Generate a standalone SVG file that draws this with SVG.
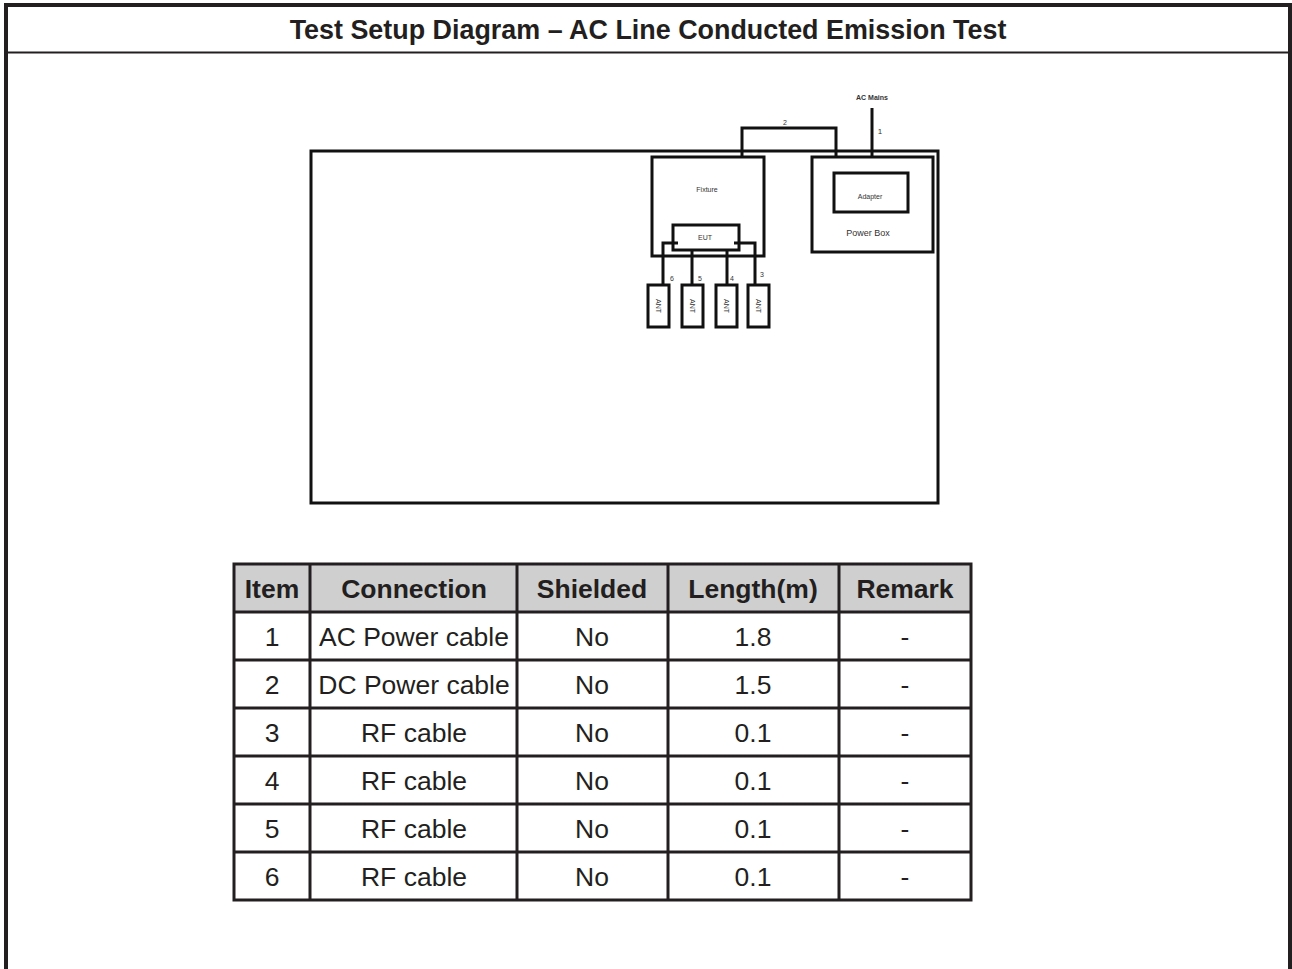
<svg xmlns="http://www.w3.org/2000/svg" width="1292" height="969" viewBox="0 0 1292 969">
<style>
.frame{fill:none;stroke:#231f20}
.ln{fill:none;stroke:#111;stroke-width:3}
.sm{font-family:"Liberation Sans",Arial,sans-serif;fill:#333;text-anchor:middle}
.tt{font-family:"Liberation Sans",Arial,sans-serif;fill:#231f20;text-anchor:middle;font-size:26.5px}
.th{font-weight:bold}
.grid{stroke:#231f20;stroke-width:3;fill:none}
</style>
<rect width="1292" height="969" fill="#fff"/>
<g id="frame">
<path class="frame" stroke-width="4" d="M6,975 V5 H1290 V975"/>
<line class="frame" stroke-width="2" x1="6" y1="52.5" x2="1290" y2="52.5"/>
<text x="648" y="39" font-family="Liberation Sans,Arial,sans-serif" font-weight="bold" font-size="26.9" fill="#231f20" text-anchor="middle">Test Setup Diagram – AC Line Conducted Emission Test</text>
</g>
<g id="table-area">
<rect id="ta-main" class="ln" x="311" y="151" width="627" height="352"/>
</g>
<g id="fixture">
<rect class="ln" x="652" y="157" width="112" height="99"/>
<text class="sm" x="707" y="192" font-size="7">Fixture</text>
</g>
<g id="eut">
<rect class="ln" x="673" y="225" width="66" height="25" fill="#fff"/>
<text class="sm" x="705" y="240" font-size="7">EUT</text>
</g>
<g id="power-box">
<rect class="ln" x="812" y="157" width="121" height="95"/>
<text class="sm" x="868" y="236" font-size="9">Power Box</text>
</g>
<g id="adapter">
<rect class="ln" x="834" y="173" width="74" height="39"/>
<text class="sm" x="870" y="199" font-size="7">Adapter</text>
</g>
<g id="ac-mains">
<text class="sm" x="872" y="100" font-size="7" font-weight="bold" fill="#111">AC Mains</text>
</g>
<g id="ant6"><rect class="ln" x="648" y="285" width="21" height="42"/><text class="sm" font-size="7" transform="translate(656,306) rotate(90)">ANT</text></g>
<g id="ant5"><rect class="ln" x="682" y="285" width="21" height="42"/><text class="sm" font-size="7" transform="translate(690,306) rotate(90)">ANT</text></g>
<g id="ant4"><rect class="ln" x="716" y="285" width="21" height="42"/><text class="sm" font-size="7" transform="translate(724,306) rotate(90)">ANT</text></g>
<g id="ant3"><rect class="ln" x="748" y="285" width="21" height="42"/><text class="sm" font-size="7" transform="translate(756,306) rotate(90)">ANT</text></g>
<g id="connectors">
<path class="ln" d="M872,108 V157"/>
<path class="ln" d="M742,157 V128 H836 V157"/>
<path class="ln" d="M678,243 H663 V285"/>
<path class="ln" d="M692,250 V285"/>
<path class="ln" d="M727,250 V285"/>
<path class="ln" d="M734,243 H755 V285"/>
<text class="sm" x="880" y="134" font-size="8">1</text>
<text class="sm" x="785" y="125" font-size="7">2</text>
<text class="sm" x="762" y="277" font-size="7">3</text>
<text class="sm" x="732" y="281" font-size="7">4</text>
<text class="sm" x="700" y="281" font-size="7">5</text>
<text class="sm" x="672" y="281" font-size="7">6</text>
</g>
<g id="cable-table">
<rect x="234" y="564" width="737" height="48" fill="#cfcfd0"/>
<path class="grid" d="M234,564 H971 V900 H234 Z M234,612 H971 M234,660 H971 M234,708 H971 M234,756 H971 M234,804 H971 M234,852 H971 M310,564 V900 M517,564 V900 M668,564 V900 M839,564 V900"/>
<g class="tt th">
<text x="272" y="598">Item</text>
<text x="414" y="598">Connection</text>
<text x="592" y="598">Shielded</text>
<text x="753" y="598">Length(m)</text>
<text x="905" y="598">Remark</text>
</g>
<g class="tt">
<text x="272" y="646">1</text><text x="414" y="646">AC Power cable</text><text x="592" y="646">No</text><text x="753" y="646">1.8</text><text x="905" y="646">-</text>
<text x="272" y="694">2</text><text x="414" y="694">DC Power cable</text><text x="592" y="694">No</text><text x="753" y="694">1.5</text><text x="905" y="694">-</text>
<text x="272" y="742">3</text><text x="414" y="742">RF cable</text><text x="592" y="742">No</text><text x="753" y="742">0.1</text><text x="905" y="742">-</text>
<text x="272" y="790">4</text><text x="414" y="790">RF cable</text><text x="592" y="790">No</text><text x="753" y="790">0.1</text><text x="905" y="790">-</text>
<text x="272" y="838">5</text><text x="414" y="838">RF cable</text><text x="592" y="838">No</text><text x="753" y="838">0.1</text><text x="905" y="838">-</text>
<text x="272" y="886">6</text><text x="414" y="886">RF cable</text><text x="592" y="886">No</text><text x="753" y="886">0.1</text><text x="905" y="886">-</text>
</g>
</g>
</svg>
